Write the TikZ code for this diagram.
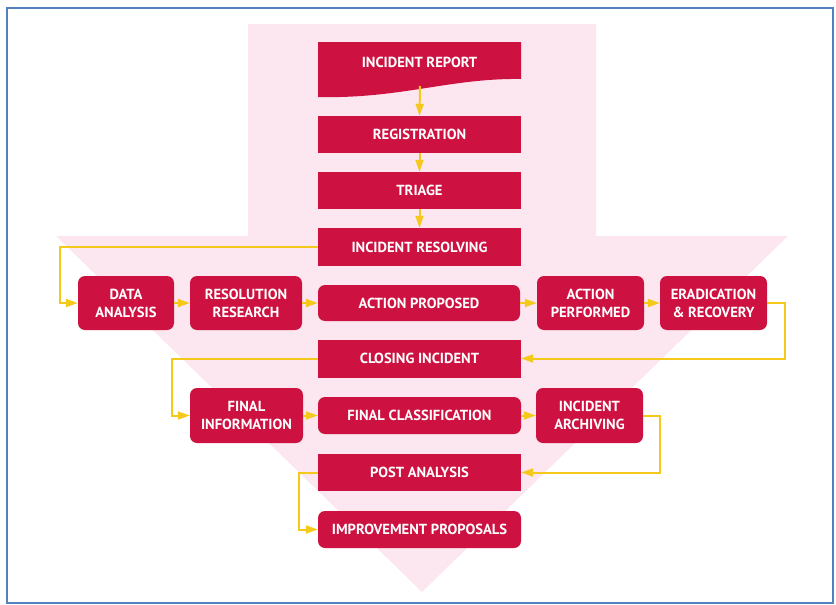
\documentclass[tikz,border=0pt]{standalone}
\usepackage{fontspec}
\setmainfont{PT Sans}
\usetikzlibrary{arrows.meta}
\definecolor{boxred}{RGB}{205,17,64}
\definecolor{flowpink}{RGB}{252,230,239}
\definecolor{flowyellow}{RGB}{245,200,28}
\definecolor{frameblue}{RGB}{84,130,192}
\tikzset{
  box/.style={fill=boxred, text=white, inner sep=0pt, align=center,
    font=\bfseries\fontsize{14.6}{18}\selectfont},
  rbox/.style={box, rounded corners=7pt},
  flow/.style={draw=flowyellow, line width=2pt, -{Triangle[width=8pt,length=12pt]}}
}
\begin{document}
\begin{tikzpicture}[x=1pt,y=-1pt]
\useasboundingbox (0,0) rectangle (836,605);
\draw[frameblue, line width=2pt] (7,8) rectangle (833,603);
% big background arrow
\fill[flowpink] (248,24) -- (596,24) -- (596,236) -- (788,236) -- (422,592) -- (56,236) -- (248,236) -- cycle;
% report with wavy bottom
\fill[boxred] (318,42) -- (521,42) -- (521,79) .. controls (450,78) and (400,99) .. (318,97) -- cycle;
\node[box, fill=none] (rep) at (419.5,62) {INCIDENT REPORT};
\coordinate (repb) at (420,86);
\foreach \n/\x/\y/\w/\h/\t in {reg/419.5/134.5/203/37/REGISTRATION, tri/419.5/190.5/203/37/TRIAGE,
    res/419.5/247/203/38/INCIDENT RESOLVING, clo/419.5/358.5/203/38/CLOSING INCIDENT,
    pan/419.5/472.5/203/37/POST ANALYSIS}
  \node[box, minimum width=\w pt, minimum height=\h pt] (\n) at (\x,\y) {\t};
\foreach \n/\x/\y/\w/\h/\t in {dat/126/303/96/54/DATA\\ANALYSIS, rsr/246/303/112/54/RESOLUTION\\RESEARCH,
    apr/419/303/202/36/ACTION PROPOSED, apf/590.5/303/107/54/ACTION\\PERFORMED,
    era/713.5/303/107/54/ERADICATION\\\& RECOVERY, fin/246.5/415.5/113/55/FINAL\\INFORMATION,
    fcl/419.5/415.5/203/37/FINAL CLASSIFICATION, arc/589.5/415.5/107/55/INCIDENT\\ARCHIVING,
    imp/419.5/529.5/203/37/IMPROVEMENT PROPOSALS}
  \node[rbox, minimum width=\w pt, minimum height=\h pt] (\n) at (\x,\y) {\t};
% connectors
\draw[flow] (repb) -- (reg.north);
\draw[flow] (reg) -- (tri);
\draw[flow] (tri) -- (res);
\draw[flow] (res.west) -- ++(-258,0) |- (dat.west);
\foreach \a/\b in {dat/rsr, rsr/apr, apr/apf, apf/era, fin/fcl, fcl/arc}
  \draw[flow] (\a.east) -- (\b.west);
\draw[flow] (era.east) -- ++(18,0) |- (clo.east);
\draw[flow] (clo.west) -- ++(-146,0) |- (fin.west);
\draw[flow] (arc.east) -- ++(17,0) |- (pan.east);
\draw[flow] (pan.west) -- ++(-19,0) |- (imp.west);
\end{tikzpicture}
\end{document}
